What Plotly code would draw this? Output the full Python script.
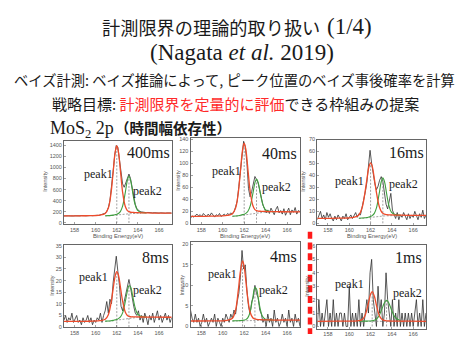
import plotly.graph_objects as go

W, H = 467, 337

# ---------------- data ----------------
# measured energy grid (eV), 0.15 eV steps from 157.0 to 167.2
ENERGY = [round(157.0 + 0.15 * i, 2) for i in range(69)]
# energies at which the fitted curves are read
FIT_E = [157.0, 159.0, 160.4, 160.9, 161.2, 161.45, 161.65, 161.85, 162.0, 162.15, 162.35,
         162.55, 162.8, 163.0, 163.15, 163.3, 163.5, 163.7, 163.95, 164.3, 164.8, 165.5, 167.2]

LABELS = ["400ms", "40ms", "16ms", "8ms", "4ms", "1ms"]

DATA_400MS = [127, 131, 124, 129, 127, 133, 126, 130, 125, 132,
              128, 134, 127, 131, 129, 135, 130, 134, 131, 137,
              133, 138, 136, 143, 150, 160, 176, 209, 276, 406,
              627, 918, 1212, 1394, 1360, 1160, 899, 703, 642, 720,
              829, 880, 799, 638, 460, 335, 256, 221, 206, 199,
              191, 193, 186, 190, 184, 188, 181, 186, 179, 184,
              178, 183, 177, 182, 176, 181, 175, 180, 177]
DATA_40MS = [8, 12, 10, 13, 15, 12, 14, 11, 16, 13,
             11, 15, 12, 17, 13, 10, 14, 12, 16, 11,
             13, 15, 12, 16, 14, 17, 15, 19, 27, 37,
             61, 89, 118, 137, 128, 102, 58, 44, 53, 66,
             78, 73, 67, 55, 40, 30, 24, 17, 22, 16,
             25, 19, 14, 23, 28, 17, 21, 15, 24, 13,
             20, 25, 14, 22, 18, 26, 15, 21, 19]
DATA_16MS = [3, 6, 10, 4, 7, 3, 9, 5, 8, 4,
             2, 6, 3, 7, 5, 2, 6, 4, 8, 3,
             5, 7, 4, 6, 9, 5, 8, 7, 13, 19,
             26, 34, 45, 61, 50, 41, 33, 28, 31, 36,
             39, 35, 24, 16, 12, 18, 25, 11, 7, 4,
             9, 3, 7, 5, 9, 6, 3, 8, 4, 7,
             5, 10, 6, 3, 8, 5, 11, 4, 7]
DATA_8MS = [3, 5, 2, 4, 3, 6, 2, 4, 5, 2,
            3, 1, 4, 2, 3, 5, 2, 4, 1, 3,
            2, 4, 3, 6, 2, 5, 7, 11, 6, 12,
            10, 19, 24, 30.5, 24, 18, 9, 7, 11, 14,
            18, 20.5, 17, 12, 9, 6, 5, 7, 3, 5,
            2, 6, 4, 1, 5, 3, 6, 2, 4, 7,
            3, 5, 2, 4, 6, 3, 5, 2, 4]
DATA_4MS = [4, 2, 1, 3, 1, 2, 0, 1, 3, 1,
            2, 0, 1, 2, 1, 3, 0, 2, 1, 0,
            2, 1, 3, 2, 1, 3, 2, 4, 3, 6,
            8, 12, 18.5, 14, 15, 9, 5, 3, 6, 7,
            10, 8, 7, 4, 3, 1, 2, 0, 3, 1,
            2, 0, 4, 1, 2, 0, 1, 3, 1, 2,
            0, 4, 1, 2, 0, 3, 1, 2, 0]
DATA_1MS = [0, 2, 0, 1, 0, 1, 2, 0, 1, 0,
            2, 0, 1, 0, 1, 1, 0, 1, 0, 0,
            3, 0, 1, 0, 1, 0, 2, 0, 1, 0,
            1, 2, 1, 4, 5, 2, 1, 0, 3, 1,
            2, 0, 1, 4, 2, 1, 0, 2, 0, 1,
            0, 2, 0, 1, 0, 1, 0, 1, 0, 1,
            0, 1, 2, 0, 1, 0, 2, 0, 1]

N = None
# peak1 + background fit (red)
RED_400MS = [127, 130, 142, 170, 268, 530, 908, 1277, 1391, 1284, 927, 556, 300, 223, 203, 193, 190, 188, 185, 182, 181, 179, 177]
RED_40MS = [11.2, 11.5, 12.7, 15.4, 25, 50.3, 87, 122.8, 134, 123.9, 89.8, 54.3, 29.8, 22.5, 20.7, 19.9, 19.8, 19.6, 19.45, 19.2, 19, 18.9, 18.7]
RED_16MS = [4.1, 4.25, 4.86, 6.9, 12.9, 24.4, 36.4, 47.4, 50.5, 47.8, 37.4, 25.7, 14.5, 10, 8.4, 7.7, 7.3, 7.1, 7, 6.9, 6.8, 6.7, 6.6]
RED_8MS = [2.44, 2.49, 2.73, 3.33, 5.35, 10.2, 16.3, 22.1, 23.9, 22.4, 17, 11.2, 6.5, 5, 4.6, 4.45, 4.43, 4.4, 4.38, 4.34, 4.31, 4.27, 4.23]
RED_4MS = [1.32, 1.36, 1.5, 1.98, 4.0, 8.77, 13.4, 15.95, 14.5, 11.2, 6.5, 3.5, 2.1, 1.82, 1.72, 1.67, 1.65, 1.62, 1.61, 1.59, 1.56, 1.54, 1.52]
RED_1MS = [0.383, 0.39, 0.40, 0.43, 0.51, 0.76, 1.25, 1.93, 2.4, 2.6, 2.27, 1.58, 0.86, 0.58, 0.49, 0.45, 0.42, 0.41, 0.40, 0.40, 0.39, 0.39, 0.38]
# peak2 + background fit (green)
GREEN_400MS = [N, N, N, 130.5, 133, 137, 142, 150, 157, 171, 209, 302, 542, 767, 840, 772, 554, 355, 230, 190, 182, N, N]
GREEN_40MS = [N, N, N, 11.5, 11.85, 12.3, 13, 14.1, 14.8, 16.2, 19.8, 27.9, 48.3, 67.4, 73.7, 68.2, 50.1, 33.5, 23, 19.7, 19.1, N, N]
GREEN_16MS = [N, N, N, 4.27, 4.4, 4.6, 4.85, 5.3, 5.6, 6.4, 8.3, 12.9, 24.4, 34.7, 38, 35, 25, 15.5, 9.3, 7.3, 6.85, N, N]
GREEN_8MS = [N, N, N, 2.54, 2.6, 2.72, 2.89, 3.13, 3.3, 3.64, 4.38, 6.1, 10.8, 15.5, 17.8, 17.35, 13.5, 9.0, 5.76, 4.58, 4.37, N, N]
GREEN_4MS = [N, N, N, 1.36, 1.37, 1.39, 1.43, 1.47, 1.55, 1.66, 2.14, 3.5, 7.0, 9.45, 9.1, 7.1, 4.2, 2.46, 1.77, 1.61, 1.56, N, N]
GREEN_1MS = [N, N, N, 0.39, 0.39, 0.40, 0.40, 0.41, 0.41, 0.43, 0.46, 0.55, 0.80, 1.18, 1.48, 1.77, 1.95, 1.77, 1.26, 0.68, 0.43, N, N]
# Shirley background (dashed)
BG_400MS = [N, N, N, 126.5, 127.5, 130, 133.5, 139, 141.5, 146.5, 152.5, 156.5, 159.5, 163, 165.5, 168, 171.5, 173, 174, 174.5, N, N, N]
BG_40MS = [N, N, N, 11.2, 11.4, 11.75, 12.3, 13.1, 13.5, 14.2, 15.1, 15.7, 16.2, 16.7, 17.1, 17.45, 18, 18.2, 18.35, 18.4, N, N, N]
BG_16MS = [N, N, N, 4.08, 4.13, 4.25, 4.43, 4.7, 4.83, 5.08, 5.38, 5.58, 5.73, 5.9, 6.03, 6.15, 6.33, 6.4, 6.45, 6.48, N, N, N]
BG_8MS = [N, N, N, 2.45, 2.49, 2.58, 2.71, 2.9, 2.99, 3.17, 3.39, 3.53, 3.64, 3.77, 3.86, 3.95, 4.07, 4.13, 4.16, 4.18, N, N, N]
BG_4MS = [N, N, N, 1.31, 1.31, 1.32, 1.33, 1.35, 1.37, 1.39, 1.41, 1.43, 1.44, 1.45, 1.46, 1.47, 1.49, 1.49, 1.5, 1.5, N, N, N]
BG_1MS = [N, N, N, 0.38, 0.38, 0.38, 0.38, 0.38, 0.38, 0.38, 0.38, 0.38, 0.38, 0.38, 0.38, 0.38, 0.38, 0.38, 0.38, 0.38, N, N, N]

PEAK1_E = [162.0, 162.0, 162.0, 162.0, 161.85, 162.15]
PEAK1_TOP = [1391, 134, 50.5, 23.9, 15.95, 2.6]
PEAK2_E = [163.15, 163.15, 163.15, 163.15, 163.0, 163.5]
PEAK2_TOP = [840, 73.7, 38, 17.8, 9.45, 1.95]

X_TICKS = [158, 160, 162, 164, 166]
Y_DTICK = [200, 20, 10, 5, 5, 1]

DATA = [DATA_400MS, DATA_40MS, DATA_16MS, DATA_8MS, DATA_4MS, DATA_1MS]
REDS = [RED_400MS, RED_40MS, RED_16MS, RED_8MS, RED_4MS, RED_1MS]
GREENS = [GREEN_400MS, GREEN_40MS, GREEN_16MS, GREEN_8MS, GREEN_4MS, GREEN_1MS]
BGS = [BG_400MS, BG_40MS, BG_16MS, BG_8MS, BG_4MS, BG_1MS]

# ---------------- layout (pixel boxes) ----------------
BOX_X = [(64, 171.7), (190.5, 300), (317.3, 426), (64, 171.7), (190.5, 300), (317.3, 426)]
BOX_Y = [(140.5, 225), (137, 225), (139, 225.7), (246.7, 330.3), (243.3, 330.3), (246.7, 331.5)]
Y_RANGE = [(-18, 1474), (-1.6, 143.3), (-1.15, 70), (-0.15, 35.2), (-0.24, 20.57), (-0.16, 6.05)]

def px(x):
    return x / W

def py(y):
    return 1 - y / H

fig = go.Figure()
layout = dict(width=W, height=H, margin=dict(l=0, r=0, t=0, b=0),
              paper_bgcolor="white", plot_bgcolor="white", showlegend=False)

tickfont = dict(family="Liberation Sans", size=5.5, color="#555")
GRAY = "#8a8a8a"
for k in range(6):
    n = k + 1
    xa, ya = ("x" if n == 1 else f"x{n}"), ("y" if n == 1 else f"y{n}")
    common = dict(xaxis=xa, yaxis=ya, mode="lines", hoverinfo="skip")
    fig.add_trace(go.Scatter(x=ENERGY, y=DATA[k], line=dict(color="#2e2e2e", width=0.8), **common))
    fig.add_trace(go.Scatter(x=FIT_E, y=BGS[k], line=dict(color=GRAY, width=0.8, dash="2px,1.5px"), **common))
    fig.add_trace(go.Scatter(x=[PEAK1_E[k], PEAK1_E[k]], y=[0, PEAK1_TOP[k]],
                             line=dict(color=GRAY, width=0.8, dash="2px,1.5px"), **common))
    fig.add_trace(go.Scatter(x=[PEAK2_E[k], PEAK2_E[k]], y=[0, PEAK2_TOP[k]],
                             line=dict(color=GRAY, width=0.8, dash="2px,1.5px"), **common))
    fig.add_trace(go.Scatter(x=FIT_E, y=GREENS[k], line=dict(color="#3f9f3f", width=1.1, shape="spline"),
                             connectgaps=False, **common))
    fig.add_trace(go.Scatter(x=FIT_E, y=REDS[k], line=dict(color="#ee4b2b", width=1.3, shape="spline"), **common))

    xkey = "xaxis" if n == 1 else f"xaxis{n}"
    ykey = "yaxis" if n == 1 else f"yaxis{n}"
    layout[xkey] = dict(domain=[px(BOX_X[k][0]), px(BOX_X[k][1])], range=[157.0, 167.2], anchor=ya,
                        tickvals=X_TICKS, ticks="inside", ticklen=2, tickwidth=0.6, tickcolor="#666",
                        showline=True, mirror=True, linecolor="#666", linewidth=1, showgrid=False,
                        zeroline=False, tickfont=tickfont, fixedrange=True)
    layout[ykey] = dict(domain=[py(BOX_Y[k][1]), py(BOX_Y[k][0])], range=list(Y_RANGE[k]), anchor=xa,
                        tick0=0, dtick=Y_DTICK[k], ticks="inside", ticklen=2, tickwidth=0.6, tickcolor="#666",
                        showline=True, mirror=True, linecolor="#666", linewidth=1, showgrid=False,
                        zeroline=False, tickfont=tickfont, fixedrange=True)

ann = []
def text(x, y, t, size, family, color="#1a1a1a", xanchor="center", angle=0):
    ann.append(dict(x=px(x), y=py(y), xref="paper", yref="paper", text=t, showarrow=False,
                    xanchor=xanchor, yanchor="middle", textangle=angle,
                    font=dict(size=size, family=family, color=color)))

CJK = "Noto Sans CJK JP"
SERIF = "Liberation Serif"
text(100, 24, "計測限界の理論的取り扱い", 18.2, CJK, xanchor="left")
text(325, 24, "(1/4)", 23, SERIF, xanchor="left")
text(242, 50.5, "(Nagata <i>et al.</i> 2019)", 23, SERIF)
text(12, 78, "ベイズ計測: ベイズ推論によって, ピーク位置のベイズ事後確率を計算", 14.3, CJK, xanchor="left")
text(50, 102, "戦略目標: <span style='color:#ff2a2a'>計測限界を定量的に評価</span>できる枠組みの提案", 15, CJK,
     xanchor="left")
text(48, 128.5, "MoS<sub>2</sub> 2p", 18, SERIF, xanchor="left")
text(113, 127, "<b>（時間幅依存性）</b>", 14.5, CJK, xanchor="left")

LABEL_POS = [(172, 152), (298.5, 153), (425.5, 152), (170.5, 259), (298.5, 258), (423.5, 259)]
P1_POS = [(98, 174), (226, 171), (349, 181), (93, 279), (222.5, 276), (349.5, 286)]
P2_POS = [(147.5, 191), (276.5, 187), (403, 184), (147.5, 292), (273.5, 292), (407, 295)]
INT_POS = [(45, 182), (178, 181), (303, 182), (52, 288), (181.7, 287), (307, 289)]
for k in range(6):
    text(LABEL_POS[k][0], LABEL_POS[k][1], LABELS[k], 16, SERIF, xanchor="right")
    text(P1_POS[k][0], P1_POS[k][1], "peak1", 12, SERIF)
    text(P2_POS[k][0], P2_POS[k][1], "peak2", 12, SERIF)
    text(INT_POS[k][0], INT_POS[k][1], "Intensity", 5.5, "Liberation Sans", color="#555", angle=-90)
for k in range(3):
    text((BOX_X[k][0] + BOX_X[k][1]) / 2, 237.5, "Binding Energy(eV)", 5.8, "Liberation Sans", color="#555")

layout["annotations"] = ann
layout["shapes"] = [dict(type="line", xref="paper", yref="paper", x0=px(310), x1=px(310), y0=py(233), y1=0,
                         line=dict(color="#ff1a1a", width=4.5, dash="7px,3.7px"))]
fig.update_layout(**layout)
fig.write_html("out.html", config={"displayModeBar": False, "staticPlot": True},
               post_script="document.body.style.margin='0';document.body.style.overflow='hidden';")
